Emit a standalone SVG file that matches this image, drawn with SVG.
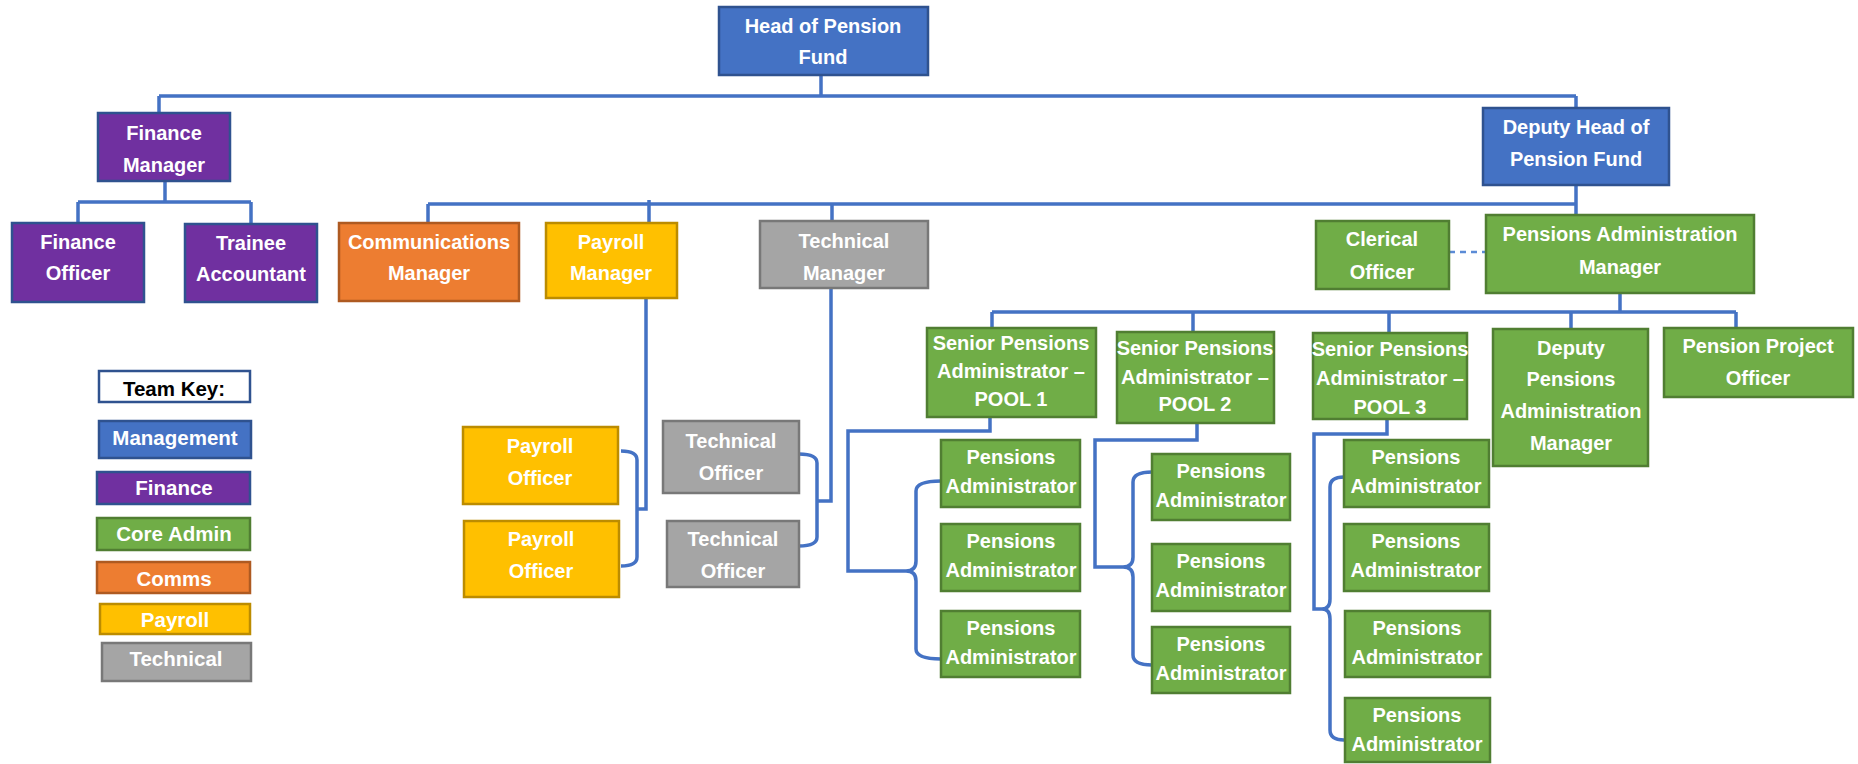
<svg xmlns="http://www.w3.org/2000/svg" width="1858" height="764" viewBox="0 0 1858 764">
<style>
text{font-family:"Liberation Sans",Arial,sans-serif;font-weight:bold;font-size:20px;fill:#fff;text-anchor:middle}
rect{stroke-width:2.5}
.mg{fill:#4472C4;stroke:#2F528F}
.fi{fill:#7030A0;stroke:#2F528F}
.ca{fill:#70AD47;stroke:#507E32}
.co{fill:#ED7D31;stroke:#AE5A21}
.pa{fill:#FFC000;stroke:#BC8C00}
.te{fill:#A5A5A5;stroke:#787878}
.key{fill:#fff;stroke:#2F528F}
.lg text{font-size:20.5px}
#connectors path{fill:none;stroke:#4472C4;stroke-width:3.5;stroke-linejoin:miter}
#connectors .dash{stroke-width:2.5;stroke-dasharray:6 5;stroke:#5B8BD6}
</style>
<g id="connectors">
<path d="M821,75V96M159,96H1576M159,96V113M1576,96V108"/>
<path d="M165,181V202M78,202H251M78,202V223M251,202V224"/>
<path d="M1576,185V215M428,204H1576M428,204V223M649,200V223M832,204V221"/>
<path d="M1620,293V312M992,312H1736M992,312V328M1193,312V332M1389,312V333M1571,312V329M1736,312V328"/>
<path class="dash" d="M1449,252H1486"/>
<path d="M646,298V509H637M621,451Q637,451 637,460V557Q637,566 621,566"/>
<path d="M831,288V501H817M799,454Q817,454 817,463V537Q817,546 799,546"/>
<path d="M990,417V431H848V571H906Q916,571 916,561V491Q916,481 941,481M916,581V649Q916,659 941,659M906,571Q916,571 916,581"/>
<path d="M1197,423V440H1095V567H1123Q1133,567 1133,557V482Q1133,472 1152,472M1133,577V655Q1133,665 1152,665M1123,567Q1133,567 1133,577"/>
<path d="M1387,419V434H1314V609H1322Q1330,609 1330,599V487Q1330,477 1344,477M1330,619V730Q1330,740 1344,740M1322,609Q1330,609 1330,619"/>
</g>
<g id="head"><rect class="mg" x="719" y="7" width="209" height="68"/><text x="823" y="33">Head of Pension</text><text x="823" y="64">Fund</text></g>
<g id="finance-manager"><rect class="fi" x="98" y="113" width="132" height="68"/><text x="164" y="140">Finance</text><text x="164" y="172">Manager</text></g>
<g id="finance-officer"><rect class="fi" x="12" y="223" width="132" height="79"/><text x="78" y="249">Finance</text><text x="78" y="280">Officer</text></g>
<g id="trainee-accountant"><rect class="fi" x="185" y="224" width="132" height="78"/><text x="251" y="250">Trainee</text><text x="251" y="281">Accountant</text></g>
<g id="comms-manager"><rect class="co" x="339" y="223" width="180" height="78"/><text x="429" y="249">Communications</text><text x="429" y="280">Manager</text></g>
<g id="payroll-manager"><rect class="pa" x="546" y="223" width="131" height="75"/><text x="611" y="249">Payroll</text><text x="611" y="280">Manager</text></g>
<g id="technical-manager"><rect class="te" x="760" y="221" width="168" height="67"/><text x="844" y="248">Technical</text><text x="844" y="280">Manager</text></g>
<g id="deputy-head"><rect class="mg" x="1483" y="108" width="186" height="77"/><text x="1576" y="134">Deputy Head of</text><text x="1576" y="166">Pension Fund</text></g>
<g id="clerical-officer"><rect class="ca" x="1316" y="221" width="133" height="68"/><text x="1382" y="246">Clerical</text><text x="1382" y="279">Officer</text></g>
<g id="pensions-admin-manager"><rect class="ca" x="1486" y="215" width="268" height="78"/><text x="1620" y="241">Pensions Administration</text><text x="1620" y="274">Manager</text></g>
<g id="senior-pool1"><rect class="ca" x="927" y="328" width="169" height="89"/><text x="1011" y="350">Senior Pensions</text><text x="1011" y="378">Administrator –</text><text x="1011" y="406">POOL 1</text></g>
<g id="senior-pool2"><rect class="ca" x="1117" y="332" width="157" height="91"/><text x="1195" y="355">Senior Pensions</text><text x="1195" y="384">Administrator –</text><text x="1195" y="411">POOL 2</text></g>
<g id="senior-pool3"><rect class="ca" x="1313" y="333" width="154" height="86"/><text x="1390" y="356">Senior Pensions</text><text x="1390" y="385">Administrator –</text><text x="1390" y="414">POOL 3</text></g>
<g id="deputy-pam"><rect class="ca" x="1493" y="329" width="155" height="137"/><text x="1571" y="355">Deputy</text><text x="1571" y="386">Pensions</text><text x="1571" y="418">Administration</text><text x="1571" y="450">Manager</text></g>
<g id="pension-project-officer"><rect class="ca" x="1664" y="328" width="189" height="69"/><text x="1758" y="353">Pension Project</text><text x="1758" y="385">Officer</text></g>
<g id="pa-p1-1"><rect class="ca" x="941" y="440" width="139" height="67"/><text x="1011" y="464">Pensions</text><text x="1011" y="493">Administrator</text></g>
<g id="pa-p1-2"><rect class="ca" x="941" y="524" width="139" height="67"/><text x="1011" y="548">Pensions</text><text x="1011" y="577">Administrator</text></g>
<g id="pa-p1-3"><rect class="ca" x="941" y="611" width="139" height="66"/><text x="1011" y="635">Pensions</text><text x="1011" y="664">Administrator</text></g>
<g id="pa-p2-1"><rect class="ca" x="1152" y="454" width="138" height="66"/><text x="1221" y="478">Pensions</text><text x="1221" y="507">Administrator</text></g>
<g id="pa-p2-2"><rect class="ca" x="1152" y="544" width="138" height="67"/><text x="1221" y="568">Pensions</text><text x="1221" y="597">Administrator</text></g>
<g id="pa-p2-3"><rect class="ca" x="1152" y="627" width="138" height="66"/><text x="1221" y="651">Pensions</text><text x="1221" y="680">Administrator</text></g>
<g id="pa-p3-1"><rect class="ca" x="1344" y="440" width="145" height="67"/><text x="1416" y="464">Pensions</text><text x="1416" y="493">Administrator</text></g>
<g id="pa-p3-2"><rect class="ca" x="1344" y="524" width="145" height="67"/><text x="1416" y="548">Pensions</text><text x="1416" y="577">Administrator</text></g>
<g id="pa-p3-3"><rect class="ca" x="1345" y="611" width="145" height="66"/><text x="1417" y="635">Pensions</text><text x="1417" y="664">Administrator</text></g>
<g id="pa-p3-4"><rect class="ca" x="1345" y="698" width="145" height="64"/><text x="1417" y="722">Pensions</text><text x="1417" y="751">Administrator</text></g>
<g id="payroll-officer-1"><rect class="pa" x="463" y="427" width="155" height="77"/><text x="540" y="453">Payroll</text><text x="540" y="485">Officer</text></g>
<g id="payroll-officer-2"><rect class="pa" x="464" y="521" width="155" height="76"/><text x="541" y="546">Payroll</text><text x="541" y="578">Officer</text></g>
<g id="technical-officer-1"><rect class="te" x="663" y="421" width="136" height="72"/><text x="731" y="448">Technical</text><text x="731" y="480">Officer</text></g>
<g id="technical-officer-2"><rect class="te" x="667" y="521" width="132" height="66"/><text x="733" y="546">Technical</text><text x="733" y="578">Officer</text></g>
<g id="legend" class="lg">
<g id="key-title"><rect class="key" x="99" y="371" width="151" height="31"/><text x="174" y="396" style="fill:#000">Team Key:</text></g>
<g id="key-management"><rect class="mg" x="99" y="421" width="152" height="37"/><text x="175" y="445">Management</text></g>
<g id="key-finance"><rect class="fi" x="97" y="472" width="153" height="32"/><text x="174" y="495">Finance</text></g>
<g id="key-core-admin"><rect class="ca" x="97" y="518" width="153" height="32"/><text x="174" y="541">Core Admin</text></g>
<g id="key-comms"><rect class="co" x="97" y="562" width="153" height="31"/><text x="174" y="586">Comms</text></g>
<g id="key-payroll"><rect class="pa" x="100" y="604" width="150" height="30"/><text x="175" y="627">Payroll</text></g>
<g id="key-technical"><rect class="te" x="102" y="643" width="149" height="38"/><text x="176" y="666">Technical</text></g>
</g>
</svg>
